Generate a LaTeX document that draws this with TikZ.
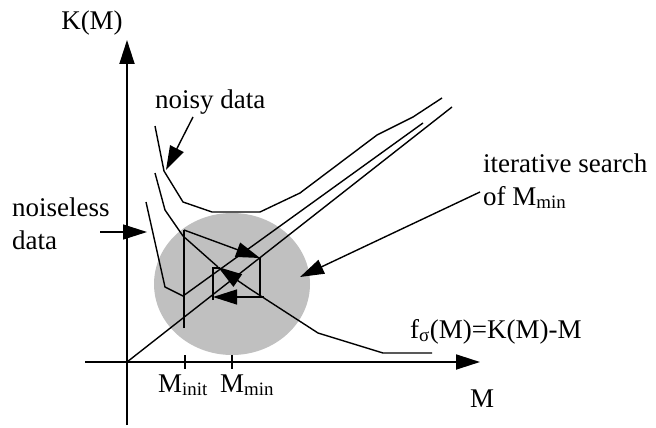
\documentclass[tikz,border=0pt]{standalone}
\usepackage{fontspec}
\setmainfont{Liberation Serif}
\usetikzlibrary{arrows.meta}
\definecolor{blobgray}{HTML}{C0C0C0}
\tikzset{
  curve/.style={line width=1.4pt, line join=miter},
  axisline/.style={line width=1.8pt},
  tri/.style={-{Triangle[length=24pt,width=15pt]}},
  irt/.style={{Triangle[length=24pt,width=15pt]}-},
  lbl/.style={inner sep=0pt, font=\fontsize{27}{33}\selectfont},
}
\begin{document}
\begin{tikzpicture}[x=1pt,y=-1pt]
\useasboundingbox (0,0) rectangle (656,428);
% gray region
\fill[blobgray] (232,284) ellipse [x radius=78, y radius=71];
% axes
\coordinate (ybot) at (127,425);
\coordinate (ytop) at (127,40);
\coordinate (xleft) at (85,362);
\coordinate (xright) at (480,362);
\coordinate (origin) at (127,362);
\draw[axisline,tri] (ybot) -- (ytop);
\draw[axisline,tri] (xleft) -- (xright);
% ticks
\coordinate (ti1) at (185,355); \coordinate (ti2) at (185,369);
\coordinate (tm1) at (232,355); \coordinate (tm2) at (232,369);
\draw[curve] (ti1) -- (ti2);
\draw[curve] (tm1) -- (tm2);
% diagonal M=K
\coordinate (diagend) at (452,107);
\draw[curve] (origin) -- (diagend);
% noisy data curve
\draw[curve] (155,126) -- (164,171) -- (183,202) -- (212,212) -- (260,212) -- (300,193) -- (377,135) -- (413,117) -- (442,98);
% noiseless curve
\draw[curve] (146,202) -- (165,287) -- (183,296) -- (423,123);
% middle curve / f
\coordinate (fhit) at (218,267);
\draw[curve] (155,173) -- (165,210) -- (183,236) -- (fhit);
\draw[curve,irt] (fhit) -- (250,289) -- (318,333) -- (383,353) -- (432,353);
% iterative search
\coordinate (a0) at (184,328);
\coordinate (a1) at (184,230);
\coordinate (a2) at (260,258);
\coordinate (a3) at (260,297);
\coordinate (a3b) at (264,297);
\coordinate (a4) at (213,297);
\coordinate (a5) at (213,300);
\coordinate (a6) at (213,268);
\coordinate (a7) at (220,268);
\draw[curve] (a0) -- (a1);
\draw[curve,tri] (a1) -- (a2);
\draw[curve] (a2) -- (a3);
\draw[curve,tri] (a3b) -- (a4);
\draw[curve] (a5) -- (a6) -- (a7);
% labels
\node[lbl, anchor=base] (kl) at (92,30) {K(M)};
\node[lbl, anchor=base west] (noisy) at (155,108) {noisy data};
\node[lbl, anchor=base west, align=left] (noiseless) at (12,249) {noiseless\\data};
\node[lbl, anchor=base west, align=left] (iter) at (483,205) {iterative search\\of M\textsubscript{min}};
\node[lbl, anchor=base west] (flab) at (410,338) {f\textsubscript{σ}(M)=K(M)-M};
\node[lbl, anchor=base west] (minit) at (158,392) {M\textsubscript{init}};
\node[lbl, anchor=base west] (mmin) at (220,392) {M\textsubscript{min}};
\node[lbl, anchor=base west] (mlab) at (470,407) {M};
% pointer arrows
\coordinate (noisyfrom) at (193,117);
\coordinate (noisyto) at (166,170);
\coordinate (nlfrom) at (100,232);
\coordinate (nlto) at (147,232);
\coordinate (itfrom) at (480,192);
\coordinate (itto) at (300,277);
\draw[curve,tri] (noisyfrom) -- (noisyto);
\draw[curve,tri] (nlfrom) -- (nlto);
\draw[curve,tri] (itfrom) -- (itto);
\end{tikzpicture}
\end{document}
